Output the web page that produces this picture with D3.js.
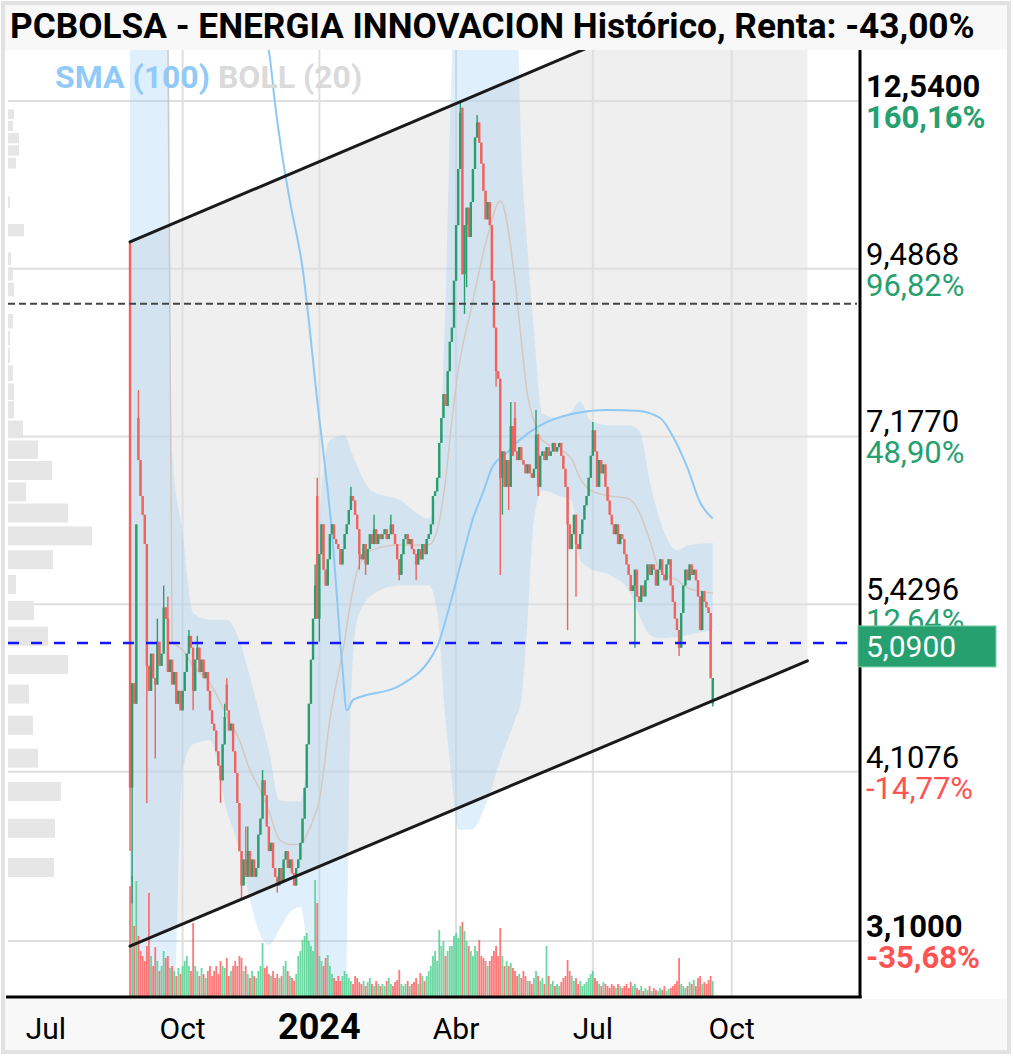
<!DOCTYPE html>
<html><head><meta charset="utf-8">
<script src="https://cdn.jsdelivr.net/npm/d3@7"></script>
<style>
html,body{margin:0;padding:0;background:#fff;}
svg{display:block;font-family:Roboto,"Noto Sans",sans-serif;}
</style></head><body>
<svg id="c" width="1013" height="1058"></svg>
<script>
// ---------------- DATA ----------------
const titleText = "PCBOLSA - ENERGIA INNOVACION Histórico, Renta: -43,00%";
const legendSma = "SMA (100)";
const legendBoll = "BOLL (20)";
const startDate = "2023-08-28";          // first trading day (index 0)
const viewStartDate = "2023-06-07";
const viewEndDate = "2024-12-25";

const closes = [
 4.0,4.76,4.6,6.2,6.9,6.5,6.3,6.0,4.9,4.7,
 5.0,4.8,4.75,5.1,4.9,5.0,5.4,5.3,4.85,4.95,
 4.75,4.85,4.6,4.7,4.55,4.7,4.85,5.0,5.15,5.05,
 4.7,4.95,5.05,4.85,4.95,4.8,4.85,4.7,4.55,4.45,
 4.4,4.25,4.15,4.05,4.3,4.5,4.55,4.4,4.45,4.25,
 4.1,3.9,3.6,3.4,3.55,3.45,3.6,3.45,3.55,3.45,
 3.5,3.7,3.8,4.05,3.95,3.75,3.6,3.65,3.5,3.45,
 3.4,3.5,3.42,3.55,3.6,3.5,3.55,3.47,3.4,3.5,
 3.55,3.65,3.8,4.0,4.3,4.6,4.95,5.3,5.6,5.3,
 5.9,6.2,5.75,5.6,5.85,6.1,6.2,6.05,6.0,5.95,
 5.8,5.95,6.1,6.2,6.35,6.5,6.45,6.3,6.15,5.9,
 5.85,6.0,5.8,5.95,6.1,6.0,6.15,6.0,6.1,6.05,
 6.1,6.15,6.05,6.1,6.2,6.1,6.0,5.85,5.7,5.9,
 6.05,6.1,6.0,6.05,5.95,5.9,5.8,5.95,5.85,6.0,
 5.9,6.05,6.1,6.2,6.5,6.55,6.7,7.1,7.4,7.7,
 7.55,8.0,8.4,8.6,9.3,10.2,11.2,12.3,9.4,10.2,
 10.5,10.0,10.6,11.2,11.8,12.1,11.7,11.3,10.8,10.3,
 10.6,10.2,9.3,8.6,8.0,7.9,6.7,7.0,6.6,6.9,
 6.6,7.3,6.95,7.0,6.9,7.05,6.9,6.85,6.75,6.85,
 6.75,6.7,6.8,7.2,6.6,6.95,7.0,6.9,7.05,6.95,
 7.0,7.1,7.0,7.05,7.1,6.95,6.8,6.6,6.2,5.95,
 6.1,6.3,6.0,5.95,6.1,6.25,6.4,6.5,6.7,6.95,
 7.25,7.0,6.6,6.9,6.75,6.85,6.6,6.45,6.3,6.2,
 6.1,6.2,6.0,6.1,6.05,5.9,5.8,5.7,5.55,5.6,
 5.75,5.5,5.45,5.6,5.5,5.65,5.8,5.7,5.8,5.75,
 5.6,5.75,5.85,5.7,5.65,5.8,5.85,5.6,5.45,5.3,
 5.2,5.05,5.35,5.6,5.75,5.65,5.8,5.7,5.75,5.65,
 5.5,5.2,5.55,5.45,5.4,5.35,4.8,4.8
];
// candles whose open differs from the previous close
const openIdx = [0, 4, 46, 89, 158, 183, 277];
const openVal = [9.9, 7.4, 4.75, 6.5, 12.4, 7.4, 4.6];
// candles with visible wicks
const wickIdx  = [0,1,4,8,12,13,16,18,28,30,32,43,45,46,53,55,56,63,70,88,89,90,105,109,112,116,124,128,136,157,159,160,165,174,176,177,180,181,183,193,194,208,212,220,240,261,277];
const wickHigh = [9.92,null,7.75,null,null,5.3,5.6,5.5,5.2,null,5.15,null,4.6,4.8,null,3.75,3.75,4.12,null,5.8,6.7,null,6.6,null,null,6.3,6.3,null,null,12.55,null,null,12.25,null,null,null,null,7.6,7.6,7.5,null,null,null,7.35,null,null,null];
const wickLow  = [3.6,3.3,null,3.9,4.2,null,null,null,null,4.55,null,3.9,null,null,3.33,null,null,null,3.36,null,null,5.1,null,5.75,5.7,null,null,5.65,5.65,null,8.8,9.2,null,7.8,5.7,6.3,6.35,null,null,null,6.5,5.2,5.5,null,5.05,4.98,4.58];

const volumes = [
 110,120,70,115,60,45,40,35,50,103,
 40,30,49,35,25,30,45,38,40,28,
 30,25,20,28,22,30,35,40,30,25,
 73,30,25,20,28,22,18,25,30,20,
 25,30,22,35,30,28,38,20,25,30,
 35,30,40,38,25,30,22,18,25,20,
 18,25,30,53,28,30,22,20,25,18,
 22,18,20,30,35,25,20,18,15,22,
 40,45,56,60,63,55,50,45,116,93,
 40,35,30,38,41,30,22,18,15,20,
 15,20,25,22,18,15,12,20,18,14,
 12,15,10,14,18,12,10,15,12,10,
 12,10,15,18,12,10,14,16,26,12,
 10,12,15,10,12,14,18,12,23,20,
 15,20,25,30,40,45,35,66,50,55,
 40,45,50,50,60,63,58,70,74,65,
 55,50,45,40,50,45,56,40,38,35,
 30,35,40,45,50,40,68,40,30,35,
 30,33,28,25,20,22,18,25,20,15,
 15,12,18,25,20,15,18,12,50,20,
 12,15,10,12,10,14,18,20,36,25,
 20,15,18,12,15,10,12,14,18,22,
 25,18,15,12,10,14,12,10,8,12,
 10,8,12,10,8,10,12,8,14,10,
 12,8,6,10,5,8,6,10,5,8,
 6,5,8,6,10,5,7,8,10,12,
 15,38,12,10,8,10,14,12,16,10,
 18,20,12,14,12,16,20,15
];

// Bollinger (20)
const bollIdx   = [0,18,20,25,30,38,46,52,57,62,66,71,76,81,84,87,90,95,102,105,108,115,128,142,146,150,153,156,162,170,176,183,186,189,192,196,204,210,214,219,228,237,242,247,252,260,266,277];
const bollUpper = [16,16,7.01,6.11,5.35,5.29,5.29,5.11,4.81,4.5,4.26,3.92,3.91,3.91,4.19,5.03,6.24,7.13,7.19,7.01,6.83,6.55,6.46,6.26,6.67,8.99,13.4,16,16,16,16,16,11.54,9.77,8.56,7.45,7.40,7.49,7.61,7.37,7.31,7.31,7.25,6.67,6.24,5.94,5.99,6.01];
const bollMid   = [16,14,5.11,5.03,4.90,4.76,4.51,4.33,4.12,3.98,3.85,3.67,3.64,3.64,3.70,3.79,3.92,4.48,5.11,5.46,5.74,5.94,5.99,5.99,6.14,6.67,7.37,8.01,8.85,10.02,10.62,9.30,8.42,7.68,7.37,7.13,7.03,6.91,6.69,6.56,6.50,6.47,6.33,6.04,5.74,5.65,5.57,5.53];
const bollLower = [2.5,2.5,2.5,4.12,4.30,4.33,3.85,3.61,3.32,3.13,3.08,3.16,3.25,3.28,3.05,2.5,2.5,2.5,2.6,4.63,5.29,5.51,5.60,5.60,5.37,4.48,4.05,3.73,3.73,3.92,4.19,4.48,4.63,5.29,6.24,6.56,6.50,6.45,5.84,5.76,5.70,5.56,5.33,5.16,5.13,5.14,5.16,5.20];

// SMA (100)
const smaIdx = [0,30,55,66,69,72,76,82,89,96,101,103,106,109,128,146,152,158,163,168,172,179,185,195,210,227,241,252,258,265,271,277];
const smaVal = [24,18,15,13.62,12.46,11.54,10.62,9.50,7.62,6.11,4.88,4.55,4.63,4.65,4.74,5.06,5.42,5.87,6.26,6.55,6.81,6.98,7.13,7.31,7.45,7.50,7.49,7.40,7.18,6.81,6.43,6.26];

// volume profile (price bins, relative volume)
const profilePrices = [3.44,3.68,3.92,4.15,4.39,4.63,4.87,5.11,5.34,5.58,5.82,6.06,6.30,6.53,6.77,7.01,7.25,7.49,7.72,7.96,8.20,8.44,8.68,8.91,9.15,9.39,9.63,9.87,10.10,10.34,10.58,10.82,11.06,11.29,11.53,11.77,12.01,12.25,12.48];
const profileVol    = [46,47,53,30,25,21,60,40,26,8,45,84,60,18,44,30,15,6,6,5,2,2,5,0,6,5,3,0,16,0,2,0,0,8,11,11,5,6,0];
const profileHalfBin = 0.119;

// trend channel
const channelDates = ["2023-08-28","2024-11-20"];
const channelUpper = [9.92, 16.0];
const channelLower = [3.074, 4.94];

const yTicks   = [12.54, 9.4868, 7.177, 5.4296, 4.1076, 3.1];
const yTickPct = [160.16, 96.82, 48.90, 12.64, -14.77, -35.68];
const xTickDates  = ["2023-07-01","2023-10-01","2024-01-01","2024-04-01","2024-07-01","2024-10-01"];
const xTickLabels = ["Jul","Oct","2024","Abr","Jul","Oct"];
const xGridDates  = ["2023-10-01","2024-01-01","2024-04-01","2024-07-01","2024-10-01"];
const lastPrice = 5.09;
const refLevel = 8.95;

// ---------------- LAYOUT ----------------
const W = 1013, H = 1058;
const plotL = 8, plotR = 860, plotT = 50, plotB = 996;
const GREEN = "#2a9d6f", RED = "#ef625d";
const VGREEN = "#52d08f", VRED = "#ff5f5f";

function weekdayIndex(ds){
  const s = new Date(startDate+"T00:00:00Z"), d = new Date(ds+"T00:00:00Z");
  const fwd = d >= s;
  let a = new Date(fwd ? s : d); const b = fwd ? d : s; let n = 0;
  while (a < b){ const w = a.getUTCDay(); if (w !== 0 && w !== 6) n++; a.setUTCDate(a.getUTCDate()+1); }
  return fwd ? n : -n;
}

const x = d3.scaleLinear().domain([weekdayIndex(viewStartDate), weekdayIndex(viewEndDate)]).range([plotL, plotR]);
const y = d3.scaleLog().domain([3.1, 12.54]).range([941, 101]);
const yVol = d3.scaleLinear().domain([0, 120]).range([plotB, plotB - 120]);
const xProf = d3.scaleLinear().domain([0, 100]).range([plotL, plotL + 100]);

const svg = d3.select("#c");
svg.append("rect").attr("width", W).attr("height", H).attr("fill", "#fff");
svg.append("rect").attr("x",5).attr("y",5).attr("width",1002).attr("height",45).attr("fill","#f8f8f8");
svg.append("rect").attr("x",5).attr("y",999).attr("width",1002).attr("height",51).attr("fill","#f8f8f8");
svg.append("rect").attr("x",3).attr("y",3).attr("width",1006).attr("height",1049)
  .attr("fill","none").attr("stroke","#e2e2e2").attr("stroke-width",4);

svg.append("defs").append("clipPath").attr("id","clip")
  .append("rect").attr("x",plotL).attr("y",plotT).attr("width",plotR-plotL).attr("height",plotB-plotT);
const g = svg.append("g").attr("clip-path","url(#clip)");

// channel fill
const cI = channelDates.map(weekdayIndex);
const chPts = [
  [x(cI[0]), y(channelUpper[0])], [x(cI[1]), y(channelUpper[1])],
  [x(cI[1]), y(channelLower[1])], [x(cI[0]), y(channelLower[0])]
];
g.append("path").attr("d", d3.line()(chPts) + "Z").attr("fill", "#efefef");

// grid
g.selectAll(".hg").data(yTicks).join("line")
  .attr("x1", plotL).attr("x2", plotR).attr("y1", d => y(d)).attr("y2", d => y(d))
  .attr("stroke", "#dfdfdf").attr("stroke-width", 2);
g.selectAll(".vg").data(xGridDates).join("line")
  .attr("x1", d => x(weekdayIndex(d))).attr("x2", d => x(weekdayIndex(d)))
  .attr("y1", plotT).attr("y2", plotB).attr("stroke", "#dfdfdf").attr("stroke-width", 2);

// volume profile
g.selectAll(".vp").data(profilePrices.map((p,i)=>({p, v:profileVol[i]})).filter(d=>d.v>0)).join("rect")
  .attr("x", plotL)
  .attr("y", d => y(d.p + profileHalfBin))
  .attr("width", d => xProf(d.v) - plotL)
  .attr("height", d => Math.max(1, Math.min(y(d.p - profileHalfBin) - y(d.p + profileHalfBin) - 2, 19)))
  .attr("fill", "#e6e6e6");

// bollinger band
const bollData = bollIdx.map((i,k)=>({i, u:bollUpper[k], m:bollMid[k], l:bollLower[k]}));
g.append("path").datum(bollData)
  .attr("d", d3.area().curve(d3.curveMonotoneX).x(d=>x(d.i)).y0(d=>y(d.l)).y1(d=>y(d.u)))
  .attr("fill", "rgba(140,200,245,0.28)");

// candles data
const candles = closes.map((c,i)=>{
  let o = i === 0 ? c : closes[i-1];
  const oi = openIdx.indexOf(i); if (oi >= 0) o = openVal[oi];
  let h = Math.max(o,c), l = Math.min(o,c);
  const wi = wickIdx.indexOf(i);
  if (wi >= 0){ if (wickHigh[wi] != null) h = Math.max(h, wickHigh[wi]); if (wickLow[wi] != null) l = Math.min(l, wickLow[wi]); }
  return {i, o, c, h, l, v: volumes[i], up: c >= o};
});

// volume bars
g.selectAll(".vol").data(candles).join("rect")
  .attr("x", d => x(d.i) - 0.9).attr("width", 1.8)
  .attr("y", d => yVol(d.v)).attr("height", d => plotB - yVol(d.v))
  .attr("fill", d => d.up ? VGREEN : VRED).attr("opacity", 0.85);

// bollinger middle
g.append("path").datum(bollData)
  .attr("d", d3.line().curve(d3.curveMonotoneX).x(d=>x(d.i)).y(d=>y(d.m)))
  .attr("fill","none").attr("stroke","#d6c8c0").attr("stroke-width",1.5);

// SMA 100
g.append("path").datum(smaIdx.map((i,k)=>({i, v:smaVal[k]})))
  .attr("d", d3.line().curve(d3.curveMonotoneX).x(d=>x(d.i)).y(d=>y(d.v)))
  .attr("fill","none").attr("stroke","#8ec8f5").attr("stroke-width",2);

// candles
const cg = g.append("g");
cg.selectAll(".wick").data(candles).join("line")
  .attr("x1", d=>x(d.i)).attr("x2", d=>x(d.i)).attr("y1", d=>y(d.h)).attr("y2", d=>y(d.l))
  .attr("stroke", d=>d.up?GREEN:RED).attr("stroke-width",1.4);
cg.selectAll(".body").data(candles).join("rect")
  .attr("x", d=>x(d.i)-1.2).attr("width", 2.4)
  .attr("y", d=>y(Math.max(d.o,d.c)))
  .attr("height", d=>Math.max(1.5, y(Math.min(d.o,d.c)) - y(Math.max(d.o,d.c))))
  .attr("fill", d=>d.up?GREEN:RED);

// channel lines
[channelUpper, channelLower].forEach(arr=>{
  g.append("line").attr("x1", x(cI[0])).attr("y1", y(arr[0])).attr("x2", x(cI[1])).attr("y2", y(arr[1]))
    .attr("stroke","#1a1a1a").attr("stroke-width",3).attr("stroke-linecap","round");
});

// dashed reference lines
g.append("line").attr("x1",plotL).attr("x2",plotR-3).attr("y1",y(refLevel)).attr("y2",y(refLevel))
  .attr("stroke","#444").attr("stroke-width",2).attr("stroke-dasharray","7,4");
g.append("line").attr("x1",plotL).attr("x2",plotR-3).attr("y1",y(lastPrice)).attr("y2",y(lastPrice))
  .attr("stroke","#1515ff").attr("stroke-width",2.5).attr("stroke-dasharray","11,12");

// axis lines
svg.append("line").attr("x1",plotR).attr("x2",plotR).attr("y1",plotT).attr("y2",plotB+2)
  .attr("stroke","#000").attr("stroke-width",3);
svg.append("line").attr("x1",6).attr("x2",plotR+1.5).attr("y1",plotB+1).attr("y2",plotB+1)
  .attr("stroke","#000").attr("stroke-width",3);

// y labels
const fmt = (v,dec)=>v.toFixed(dec).replace(".", ",");
yTicks.forEach((t,k)=>{
  const bold = (k === 0 || k === yTicks.length-1);
  svg.append("text").attr("x",866).attr("y",y(t)-4).text(fmt(t,4))
    .attr("font-size",31).attr("font-weight",bold?"bold":"normal").attr("fill","#000");
  svg.append("text").attr("x",866).attr("y",y(t)+27).text(fmt(yTickPct[k],2)+"%")
    .attr("font-size",31).attr("font-weight",bold?"bold":"normal")
    .attr("fill", yTickPct[k] >= 0 ? "#26a06f" : "#ff5252");
});
// current price box
svg.append("rect").attr("x",plotR-2).attr("y",y(lastPrice)-17).attr("width",138).attr("height",41)
  .attr("fill","#26a06f").attr("stroke","#7fd0ab").attr("stroke-width",1);
svg.append("text").attr("x",866).attr("y",y(lastPrice)+14).text(fmt(lastPrice,4))
  .attr("font-size",30).attr("fill","#fff");

// x labels
xTickDates.forEach((d,k)=>{
  const isYear = /^\d{4}$/.test(xTickLabels[k]);
  svg.append("text").attr("x", x(weekdayIndex(d))).attr("y", 1039)
    .attr("text-anchor","middle").text(xTickLabels[k])
    .attr("font-size", isYear ? 36 : 30).attr("font-weight", isYear ? "bold" : "normal").attr("fill","#000");
});

// title
const tt = svg.append("text").attr("x",10).attr("y",38).text(titleText)
  .attr("font-size",28).attr("font-weight","bold").attr("fill","#000");
const tl = tt.node().getComputedTextLength();
if (tl > 0) tt.attr("font-size", 28*965/tl);

// legend
const lg = svg.append("text").attr("x",55).attr("y",88).attr("font-size",32).attr("font-weight","bold");
lg.append("tspan").text(legendSma).attr("fill","#90caf9");
lg.append("tspan").text(" " + legendBoll).attr("fill","#dadada");
</script>
</body></html>
